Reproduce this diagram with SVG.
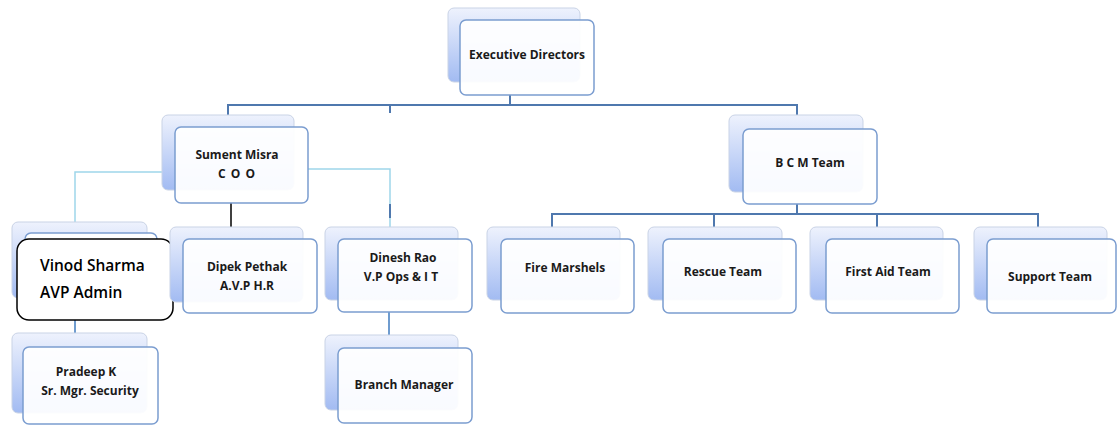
<svg xmlns="http://www.w3.org/2000/svg" width="1117" height="426" viewBox="0 0 1117 426">
<defs>
<linearGradient id="bg" x1="0" y1="0" x2="0" y2="1">
<stop offset="0" stop-color="#eef2fd"/>
<stop offset="1" stop-color="#a2bbf2"/>
</linearGradient>
</defs>
<style>
.back{fill:url(#bg);stroke:#c9d3e6;stroke-width:1}
.front{fill:#ffffff;fill-opacity:0.93;stroke:#7b9dd0;stroke-width:1.5}
.t{font-family:"Open Sans","Liberation Sans",sans-serif;font-weight:bold;font-size:12px;fill:#1a1a1a;text-anchor:middle}
.c{fill:none;stroke:#4f78ae;stroke-width:2}
.lc{fill:none;stroke:#9fd6ea;stroke-width:1.5}
.mc{fill:none;stroke:#6f9ccf;stroke-width:2}
</style>
<rect width="1117" height="426" fill="#ffffff"/>
<g id="connectors">
<path class="c" d="M510 95V105M228 115V105H797V117M390 105V113"/>
<path class="lc" d="M175 172H75V222M308 169H390V227"/>
<path class="c" d="M390 204V218"/>
<path d="M231 203V240" stroke="#000" stroke-width="1.5" fill="none"/>
<path class="mc" d="M75 320V334M389 312V335"/>
<path class="c" d="M797 204V214M552 227V214H1038V227M714 214V227M877 214V227"/>
</g>
<g id="executive-directors">
<rect class="back" x="448" y="8" width="132" height="74" rx="6"/>
<rect class="front" x="460" y="20" width="134" height="75" rx="6"/>
<text class="t" x="527" y="59">Executive Directors</text>
</g>
<g id="sument-misra">
<rect class="back" x="162" y="115" width="132" height="75" rx="6"/>
<rect class="front" x="175" y="127" width="133" height="76" rx="6"/>
<text class="t" x="237" y="159">Sument Misra</text>
<text class="t" x="237" y="178" letter-spacing="1">C O O</text>
</g>
<g id="bcm-team">
<rect class="back" x="729" y="115" width="134" height="77" rx="6"/>
<rect class="front" x="743" y="129" width="134" height="75" rx="6"/>
<text class="t" x="810" y="167">B C M Team</text>
</g>
<g id="vinod-sharma">
<rect class="back" x="12" y="222" width="135" height="76" rx="6"/>
<rect class="front" x="25" y="233" width="132" height="76" rx="6"/>
<rect x="17" y="239" width="156" height="81" rx="12" fill="#ffffff" stroke="#000" stroke-width="1.5"/>
<text x="40" y="271" font-family="Open Sans,Liberation Sans,sans-serif" font-weight="600" font-size="15.5" fill="#000">Vinod Sharma</text>
<text x="40" y="298" font-family="Open Sans,Liberation Sans,sans-serif" font-weight="600" font-size="15.5" fill="#000">AVP Admin</text>
</g>
<g id="dipek-pathak">
<rect class="back" x="170" y="227" width="133" height="75" rx="6"/>
<rect class="front" x="183" y="239" width="134" height="74" rx="6"/>
<text class="t" x="247" y="271">Dipek Pethak</text>
<text class="t" x="247" y="290">A.V.P H.R</text>
</g>
<g id="dinesh-rao">
<rect class="back" x="325" y="227" width="133" height="73" rx="6"/>
<rect class="front" x="338" y="239" width="134" height="73" rx="6"/>
<text class="t" x="403" y="262">Dinesh Rao</text>
<text class="t" x="401" y="281">V.P Ops &amp; I T</text>
</g>
<g id="pradeep-k">
<rect class="back" x="12" y="333" width="135" height="80" rx="6"/>
<rect class="front" x="23" y="347" width="135" height="77" rx="6"/>
<text class="t" x="86" y="376">Pradeep K</text>
<text class="t" x="90" y="395">Sr. Mgr. Security</text>
</g>
<g id="branch-manager">
<rect class="back" x="325" y="335" width="133" height="75" rx="6"/>
<rect class="front" x="338" y="348" width="134" height="75" rx="6"/>
<text class="t" x="404" y="389">Branch Manager</text>
</g>
<g id="fire-marshals">
<rect class="back" x="487" y="227" width="133" height="73" rx="6"/>
<rect class="front" x="501" y="239" width="133" height="74" rx="6"/>
<text class="t" x="565" y="272">Fire Marshels</text>
</g>
<g id="rescue-team">
<rect class="back" x="648" y="227" width="134" height="73" rx="6"/>
<rect class="front" x="663" y="239" width="133" height="74" rx="6"/>
<text class="t" x="723" y="276">Rescue Team</text>
</g>
<g id="first-aid-team">
<rect class="back" x="810" y="227" width="133" height="73" rx="6"/>
<rect class="front" x="826" y="239" width="133" height="74" rx="6"/>
<text class="t" x="888" y="276">First Aid Team</text>
</g>
<g id="support-team">
<rect class="back" x="974" y="227" width="133" height="73" rx="6"/>
<rect class="front" x="987" y="239" width="129" height="74" rx="6"/>
<text class="t" x="1050" y="281">Support Team</text>
</g>
</svg>
